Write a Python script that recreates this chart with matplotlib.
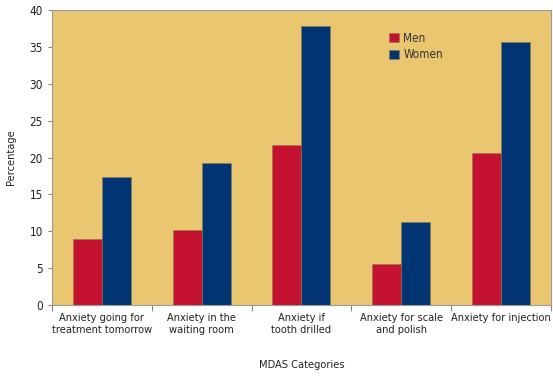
import matplotlib
matplotlib.use("Agg")
import matplotlib.pyplot as plt
import numpy as np

categories = ["Anxiety going for\ntreatment tomorrow", "Anxiety in the\nwaiting room",
              "Anxiety if\ntooth drilled", "Anxiety for scale\nand polish", "Anxiety for injection"]
men = [9.0, 10.2, 21.7, 5.5, 20.6]
women = [17.3, 19.2, 37.9, 11.2, 35.7]
yticks = [0, 5, 10, 15, 20, 25, 30, 35, 40]

plt.rcParams["font.family"] = ["DejaVu Sans"]
plt.rcParams["font.stretch"] = "condensed"
fs = 7.9

fig = plt.figure(figsize=(5.53, 3.77), dpi=100)
ax = fig.add_axes([0.094, 0.191, 0.902, 0.782])
ax.set_facecolor("#E9C66F")

x = np.arange(len(categories))
w = 0.29
ax.bar(x - w/2, men, w, color="#C41230", edgecolor="#8a7a50", linewidth=0.4, label="Men")
ax.bar(x + w/2, women, w, color="#003473", edgecolor="#8a7a50", linewidth=0.4, label="Women")

ax.set_xlim(-0.5, len(categories) - 0.5)
ax.set_ylim(0, 40)
ax.set_yticks(yticks)
ax.set_xticks(x)
ax.set_xticklabels(categories, fontsize=fs, color="#222222")
ax.tick_params(axis="x", length=0, pad=6)
ax.set_xticks(np.arange(len(categories) + 1) - 0.5, minor=True)
ax.tick_params(axis="x", which="minor", length=4, color="#888888", width=0.8)
ax.tick_params(axis="y", labelsize=fs + 0.5, length=3, color="#888888", labelcolor="#222222")

for s in ax.spines.values():
    s.set_color("#999999")
    s.set_linewidth(0.8)

ax.set_ylabel("Percentage", fontsize=fs, color="#222222", labelpad=10)
ax.set_xlabel("MDAS Categories", fontsize=fs, color="#222222", labelpad=18)

leg = ax.legend(loc="upper left", bbox_to_anchor=(0.655, 0.962), frameon=False,
                fontsize=fs + 0.5, handlelength=0.8, handleheight=0.8, handletextpad=0.4,
                labelspacing=0.3)
for t in leg.get_texts():
    t.set_color("#333333")

fig.savefig("out.png", dpi=100)
